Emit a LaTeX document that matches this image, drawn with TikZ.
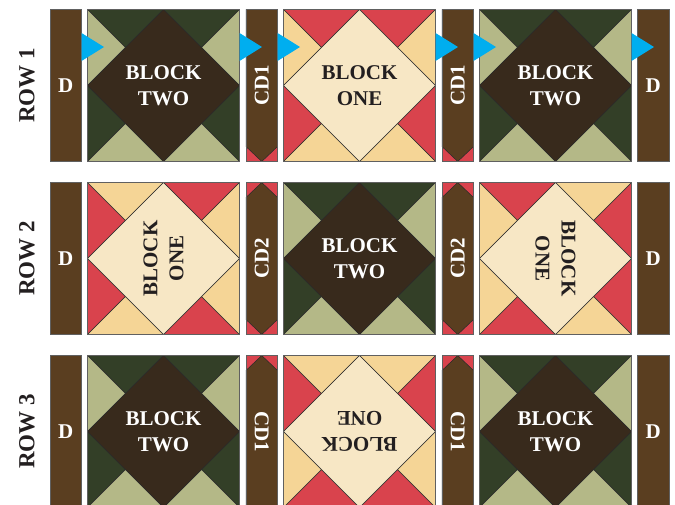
\documentclass[tikz,border=0pt]{standalone}
\usepackage{fontspec}
\setmainfont{Liberation Serif}
\definecolor{brownc}{HTML}{5A3E20}
\definecolor{dkcenter}{HTML}{382A1C}
\definecolor{dkgreen}{HTML}{333F27}
\definecolor{ltgreen}{HTML}{B4B887}
\definecolor{redc}{HTML}{D9434D}
\definecolor{tanc}{HTML}{F5D596}
\definecolor{creamc}{HTML}{F7E7C5}
\definecolor{bluec}{HTML}{00AEEF}
\definecolor{textdk}{HTML}{231F20}
\definecolor{edgec}{HTML}{2A2A2A}
\tikzset{
  piece/.style={draw=edgec,line width=0.5pt,line join=round},
  outerline/.style={draw=gray!75!black,line width=0.8pt},
  lbl/.style={font=\bfseries\fontsize{21}{26}\selectfont,align=center,inner sep=0pt},
  rowlbl/.style={font=\bfseries\fontsize{23}{26}\selectfont,text=textdk,rotate=90,inner sep=0pt},
  arrowtri/.style={fill=bluec}
}
% #1 x left, #2 y top, #3 rotation, #4 dark, #5 light, #6 centre, #7 text colour, #8 text, #9 name
\newcommand\qblock[9]{%
\begin{scope}[shift={(#1+76,#2-76)}]
 \begin{scope}[rotate=#3]
  \fill[#4,piece] (-76,76)--(0,76)--(-38,38)--cycle;
  \fill[#5,piece] (-76,76)--(-76,0)--(-38,38)--cycle;
  \fill[#4,piece] (76,76)--(0,76)--(38,38)--cycle;
  \fill[#5,piece] (76,76)--(76,0)--(38,38)--cycle;
  \fill[#4,piece] (-76,-76)--(-76,0)--(-38,-38)--cycle;
  \fill[#5,piece] (-76,-76)--(0,-76)--(-38,-38)--cycle;
  \fill[#4,piece] (76,-76)--(76,0)--(38,-38)--cycle;
  \fill[#5,piece] (76,-76)--(0,-76)--(38,-38)--cycle;
  \fill[#6,piece] (0,76)--(76,0)--(0,-76)--(-76,0)--cycle;
 \end{scope}
 \draw[outerline] (-76,-76) rectangle (76,76);
 \node[lbl,text=#7,rotate=#3] (#9) at (0,0) {#8};
\end{scope}}
% #1 x left, #2 y top, #3 top point, #4 bottom point, #5 text, #6 rotation, #7 name
\newcommand\cdstrip[7]{%
\begin{scope}[shift={(#1,#2)}]
 \fill[redc,piece] (0,0) rectangle (31.5,-152);
 \fill[brownc,piece] (0,-#3)--(15.75,0)--(31.5,-#3)--(31.5,-152+#4)--(15.75,-152)--(0,-152+#4)--cycle;
 \draw[outerline] (0,0) rectangle (31.5,-152);
 \node[lbl,text=white,rotate=#6] (#7) at (15.75,-76) {#5};
\end{scope}}
% #1 x left, #2 y top, #3 name
\newcommand\dstrip[3]{%
\begin{scope}[shift={(#1,#2)}]
 \fill[brownc,outerline] (0,0) rectangle (31.5,-152);
 \node[lbl,text=white] (#3) at (15.75,-76) {D};
\end{scope}}
\newcommand\bluetri[1]{\fill[arrowtri] (#1,-33)--(#1+22.5,-47)--(#1,-61)--cycle;}
\begin{document}
\begin{tikzpicture}[x=1pt,y=1pt]
\useasboundingbox (0,0) rectangle (675,-504);
\fill[white] (0,0) rectangle (675,-504);
\clip (0,0) rectangle (675,-504);
% row labels
\node[rowlbl] (row1) at (27,-85.5) {ROW 1};
\node[rowlbl] (row2) at (27,-258.5) {ROW 2};
\node[rowlbl] (row3) at (27,-431.5) {ROW 3};
% ROW 1
\dstrip{50}{-9.5}{d11}
\qblock{87.5}{-9.5}{0}{dkgreen}{ltgreen}{dkcenter}{white}{BLOCK\\TWO}{b11}
\cdstrip{246}{-9.5}{0}{15}{CD1}{90}{c11}
\qblock{283.5}{-9.5}{0}{redc}{tanc}{creamc}{textdk}{BLOCK\\ONE}{b12}
\cdstrip{442}{-9.5}{0}{15}{CD1}{90}{c12}
\qblock{479.5}{-9.5}{0}{dkgreen}{ltgreen}{dkcenter}{white}{BLOCK\\TWO}{b13}
\dstrip{637.5}{-9.5}{d12}
% ROW 2
\dstrip{50}{-182.5}{d21}
\qblock{87.5}{-182.5}{90}{redc}{tanc}{creamc}{textdk}{BLOCK\\ONE}{b21}
\cdstrip{246}{-182.5}{15}{15}{CD2}{90}{c21}
\qblock{283.5}{-182.5}{0}{dkgreen}{ltgreen}{dkcenter}{white}{BLOCK\\TWO}{b22}
\cdstrip{442}{-182.5}{15}{15}{CD2}{90}{c22}
\qblock{479.5}{-182.5}{-90}{redc}{tanc}{creamc}{textdk}{BLOCK\\ONE}{b23}
\dstrip{637.5}{-182.5}{d22}
% ROW 3
\dstrip{50}{-355.5}{d31}
\qblock{87.5}{-355.5}{0}{dkgreen}{ltgreen}{dkcenter}{white}{BLOCK\\TWO}{b31}
\cdstrip{246}{-355.5}{15}{0}{CD1}{-90}{c31}
\qblock{283.5}{-355.5}{180}{redc}{tanc}{creamc}{textdk}{BLOCK\\ONE}{b32}
\cdstrip{442}{-355.5}{15}{0}{CD1}{-90}{c32}
\qblock{479.5}{-355.5}{0}{dkgreen}{ltgreen}{dkcenter}{white}{BLOCK\\TWO}{b33}
\dstrip{637.5}{-355.5}{d32}
% blue direction markers, row 1
\bluetri{81.5}
\bluetri{239.5}
\bluetri{277.5}
\bluetri{435.5}
\bluetri{473.5}
\bluetri{631.5}
\end{tikzpicture}
\end{document}
